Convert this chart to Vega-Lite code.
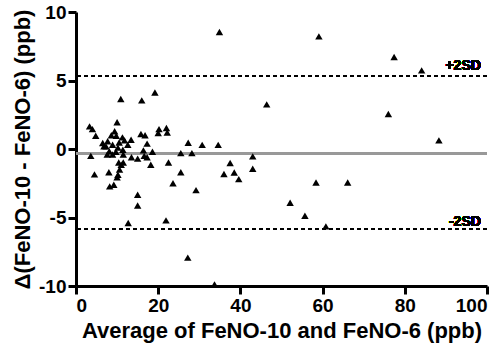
{
  "$schema": "https://vega.github.io/schema/vega-lite/v6.json",
  "width": 411,
  "height": 274,
  "autosize": {"type": "none"},
  "padding": {"left": 76, "top": 12, "right": 16, "bottom": 69},
  "background": "white",
  "config": {
    "view": {"stroke": null},
    "font": "Liberation Sans"
  },
  "data": {
    "values": [
      {"avg": 34.9, "diff": 8.54}, {"avg": 59.1, "diff": 8.22}, {"avg": 77.4, "diff": 6.71},
      {"avg": 84.1, "diff": 5.74}, {"avg": 76.0, "diff": 2.55}, {"avg": 88.3, "diff": 0.63},
      {"avg": 46.4, "diff": 3.26}, {"avg": 10.9, "diff": 3.65}, {"avg": 16.0, "diff": 3.55},
      {"avg": 19.2, "diff": 4.13}, {"avg": 10.0, "diff": 1.95}, {"avg": 3.3, "diff": 1.65},
      {"avg": 4.0, "diff": 1.45}, {"avg": 4.8, "diff": 0.97}, {"avg": 9.4, "diff": 1.3},
      {"avg": 8.6, "diff": 1.0}, {"avg": 9.8, "diff": 0.97}, {"avg": 11.3, "diff": 0.85},
      {"avg": 15.8, "diff": 1.1}, {"avg": 16.8, "diff": 1.0}, {"avg": 20.2, "diff": 1.45},
      {"avg": 22.0, "diff": 1.53}, {"avg": 20.0, "diff": 1.17}, {"avg": 22.2, "diff": 1.2},
      {"avg": 17.3, "diff": 0.39}, {"avg": 27.3, "diff": 0.46}, {"avg": 30.7, "diff": 0.3},
      {"avg": 34.6, "diff": 0.3}, {"avg": 6.5, "diff": 0.44}, {"avg": 7.7, "diff": 0.56},
      {"avg": 7.3, "diff": 0.19}, {"avg": 8.9, "diff": 0.31}, {"avg": 10.5, "diff": 0.48},
      {"avg": 11.8, "diff": 0.63}, {"avg": 13.4, "diff": 0.68}, {"avg": 12.6, "diff": 0.31},
      {"avg": 11.4, "diff": -0.05}, {"avg": 8.1, "diff": -0.17}, {"avg": 9.7, "diff": -0.2},
      {"avg": 6.8, "diff": 0.2}, {"avg": 10.2, "diff": 0.1}, {"avg": 16.4, "diff": -0.1},
      {"avg": 18.6, "diff": -0.2}, {"avg": 25.5, "diff": -0.3}, {"avg": 28.2, "diff": -0.3},
      {"avg": 3.6, "diff": -0.5}, {"avg": 7.6, "diff": -0.4}, {"avg": 8.9, "diff": -0.4},
      {"avg": 11.5, "diff": -0.4}, {"avg": 13.5, "diff": -0.6}, {"avg": 15.0, "diff": -0.7},
      {"avg": 16.6, "diff": -0.5}, {"avg": 17.3, "diff": -0.6}, {"avg": 10.4, "diff": -0.98},
      {"avg": 11.5, "diff": -0.98}, {"avg": 11.0, "diff": -1.15}, {"avg": 10.6, "diff": -1.5},
      {"avg": 10.2, "diff": -1.88}, {"avg": 10.0, "diff": -2.07}, {"avg": 4.5, "diff": -1.85},
      {"avg": 8.0, "diff": -1.7}, {"avg": 8.2, "diff": -2.73}, {"avg": 9.2, "diff": -2.61},
      {"avg": 15.0, "diff": -3.34}, {"avg": 15.0, "diff": -4.12}, {"avg": 12.7, "diff": -5.4},
      {"avg": 18.2, "diff": -1.15}, {"avg": 22.5, "diff": -0.98}, {"avg": 23.6, "diff": -2.5},
      {"avg": 21.9, "diff": -5.21}, {"avg": 25.5, "diff": -1.7}, {"avg": 29.2, "diff": -3.0},
      {"avg": 27.2, "diff": -7.93}, {"avg": 33.7, "diff": -9.88}, {"avg": 37.5, "diff": -1.02},
      {"avg": 36.0, "diff": -1.82}, {"avg": 38.5, "diff": -1.71}, {"avg": 39.6, "diff": -2.2},
      {"avg": 43.0, "diff": -0.54}, {"avg": 43.0, "diff": -1.44}, {"avg": 58.4, "diff": -2.44},
      {"avg": 66.1, "diff": -2.44}, {"avg": 52.1, "diff": -3.92}, {"avg": 55.7, "diff": -4.87},
      {"avg": 60.8, "diff": -5.65}
    ]
  },
  "layer": [
    {
      "mark": {"type": "rule", "color": "#999999", "strokeWidth": 2},
      "encoding": {"y": {"datum": -0.34, "type": "quantitative"}}
    },
    {
      "mark": {"type": "rule", "color": "black", "strokeWidth": 1.3, "strokeDash": [4, 3]},
      "encoding": {"y": {"datum": 5.3, "type": "quantitative"}}
    },
    {
      "mark": {"type": "rule", "color": "black", "strokeWidth": 1.3, "strokeDash": [4, 3]},
      "encoding": {"y": {"datum": -5.83, "type": "quantitative"}}
    },
    {
      "mark": {"type": "text", "text": "+2SD", "font": "Liberation Sans", "fontWeight": "bold", "fontSize": 14, "align": "right", "baseline": "alphabetic", "dy": -6, "color": "black"},
      "encoding": {"x": {"datum": 98.5, "type": "quantitative"}, "y": {"datum": 5.3, "type": "quantitative"}}
    },
    {
      "mark": {"type": "text", "text": "-2SD", "font": "Liberation Sans", "fontWeight": "bold", "fontSize": 14, "align": "right", "baseline": "alphabetic", "dy": -3, "color": "black"},
      "encoding": {"x": {"datum": 98.5, "type": "quantitative"}, "y": {"datum": -5.83, "type": "quantitative"}}
    },
    {
      "mark": {"type": "point", "shape": "triangle-up", "filled": true, "color": "black", "opacity": 1, "size": 55},
      "encoding": {
        "x": {
          "field": "avg", "type": "quantitative",
          "scale": {"domain": [0, 100], "nice": false, "zero": false},
          "axis": {
            "values": [0, 20, 40, 60, 80, 100],
            "title": "Average of FeNO-10 and FeNO-6 (ppb)",
            "labelExpr": "'' + datum.value",
            "grid": false,
            "domainColor": "black", "domainWidth": 3,
            "tickColor": "black", "tickWidth": 3, "tickSize": 8,
            "labelFont": "Liberation Sans", "labelFontWeight": "bold", "labelFontSize": 19, "labelColor": "black", "labelPadding": 2,
            "titleFont": "Liberation Sans", "titleFontWeight": "bold", "titleFontSize": 22, "titleColor": "black", "titlePadding": 5
          }
        },
        "y": {
          "field": "diff", "type": "quantitative",
          "scale": {"domain": [-10, 10], "nice": false, "zero": false},
          "axis": {
            "values": [-10, -5, 0, 5, 10],
            "title": "Δ(FeNO-10 - FeNO-6) (ppb)",
            "labelExpr": "'' + datum.value",
            "grid": false,
            "domainColor": "black", "domainWidth": 3,
            "tickColor": "black", "tickWidth": 3, "tickSize": 8,
            "labelFont": "Liberation Sans", "labelFontWeight": "bold", "labelFontSize": 19, "labelColor": "black", "labelPadding": 2,
            "titleFont": "Liberation Sans", "titleFontWeight": "bold", "titleFontSize": 22, "titleColor": "black", "titlePadding": 4
          }
        }
      }
    }
  ]
}
